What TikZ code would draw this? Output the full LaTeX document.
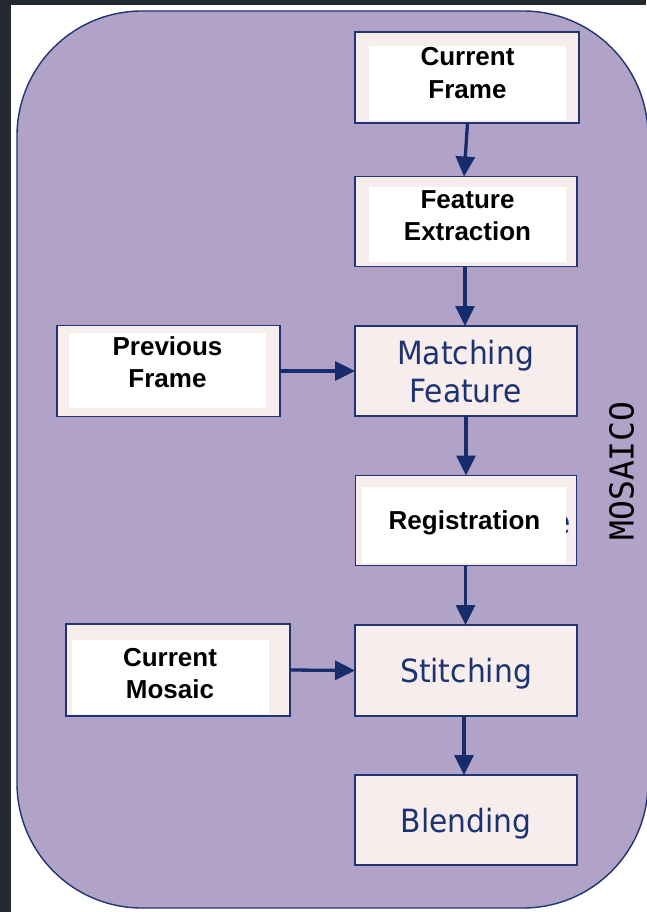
\documentclass[tikz,border=0pt]{standalone}
\usepackage{fontspec}
\setmainfont{Liberation Sans}
\newfontfamily\labelfont[FakeStretch=0.93]{DejaVu Sans}
\newfontfamily\monofont{DejaVu Sans Mono}
\usetikzlibrary{arrows.meta}

\definecolor{frame}{RGB}{35,41,49}
\definecolor{panelfill}{RGB}{177,162,199}
\definecolor{navy}{RGB}{22,44,108}
\definecolor{boxline}{RGB}{30,52,115}
\definecolor{boxfill}{RGB}{248,237,237}
\definecolor{labelblue}{RGB}{27,51,112}

\tikzset{
  box/.style={draw=boxline, line width=1.2pt, fill=boxfill, inner sep=0pt, outer sep=0pt, rectangle},
  inner/.style={fill=white},
  boldlabel/.style={font=\fontsize{26}{32.5}\selectfont\bfseries, text=black, align=center, inner sep=0pt},
  bluelabel/.style={font=\labelfont\fontsize{32}{38}\selectfont, text=labelblue, align=center, inner sep=0pt},
  flow/.style={draw=navy, line width=3.3pt, -{Triangle[length=20pt,width=19pt]}, shorten >=0pt},
}

\begin{document}
\begin{tikzpicture}[x=1pt,y=-1pt]
\useasboundingbox (0,0) rectangle (646,912);
\fill[white] (0,0) rectangle (646,912);
% dark window edges
\fill[frame] (0,0) rectangle (11,912);
\fill[frame] (0,0) rectangle (646,5);

% rounded background panel
\draw[boxline, line width=1.4pt, fill=panelfill, rounded corners=125pt] (17,11) rectangle (648,908);

% boxes
\node[box, minimum width=224pt, minimum height=91pt] (cf) at (467,77.5) {};
\node[box, minimum width=222pt, minimum height=90pt] (fe) at (466,221.5) {};
\node[box, minimum width=222pt, minimum height=90pt] (mf) at (466,371) {};
\node[box, minimum width=223pt, minimum height=91pt] (pf) at (168.5,371) {};
\node[box, minimum width=221pt, minimum height=90pt] (reg) at (466,520.5) {};
\node[box, minimum width=222pt, minimum height=91pt] (st) at (466,670.5) {};
\node[box, minimum width=224pt, minimum height=92pt] (cm) at (178,670) {};
\node[box, minimum width=222pt, minimum height=90pt] (bl) at (466,820) {};

% last letter of an older label, mostly covered by the white panel
\node[bluelabel, anchor=base east] (regTail) at (571,533) {e};

% white label panels
\fill[inner] (369,46) rectangle (566,120);
\fill[inner] (369,187) rectangle (566,262);
\fill[inner] (69,333) rectangle (266,408);
\fill[inner] (362,487) rectangle (566,563);
\fill[inner] (72,640) rectangle (269,714);

% labels
\node[boldlabel] (cfText) at (467.5,73.2) {Current\\Frame};
\node[boldlabel] (feText) at (467.5,215.5) {Feature\\Extraction};
\node[boldlabel] (pfText) at (167.5,362) {Previous\\Frame};
\node[boldlabel, anchor=base] (regText) at (464.5,529) {Registration};
\node[boldlabel] (cmText) at (170,673.4) {Current\\Mosaic};
\node[bluelabel] (mfText) at (465.5,371.5) {Matching\\Feature};
\node[bluelabel, anchor=base] (stText) at (466,682.5) {Stitching};
\node[bluelabel, anchor=base] (blText) at (466,832.5) {Blending};

\node[font=\monofont\fontsize{33}{33}\selectfont, text=black, rotate=90, inner sep=0pt] (mosaico) at (621.5,471) {MOSAICO};

% connectors
\draw[flow] ([xshift=0.5pt]cf.south) -- ([xshift=-2pt]fe.north);
\draw[flow] ([xshift=-1pt]fe.south) -- ([xshift=-1pt]mf.north);
\draw[flow] (mf.south) -- (reg.north);
\draw[flow] ([xshift=-0.5pt]reg.south) -- ([xshift=-0.5pt]st.north);
\draw[flow] ([xshift=-2pt]st.south) -- ([xshift=-2pt]bl.north);
\draw[flow] (pf.east) -- (mf.west);
\draw[flow] (cm.east) -- (st.west);
\end{tikzpicture}
\end{document}
